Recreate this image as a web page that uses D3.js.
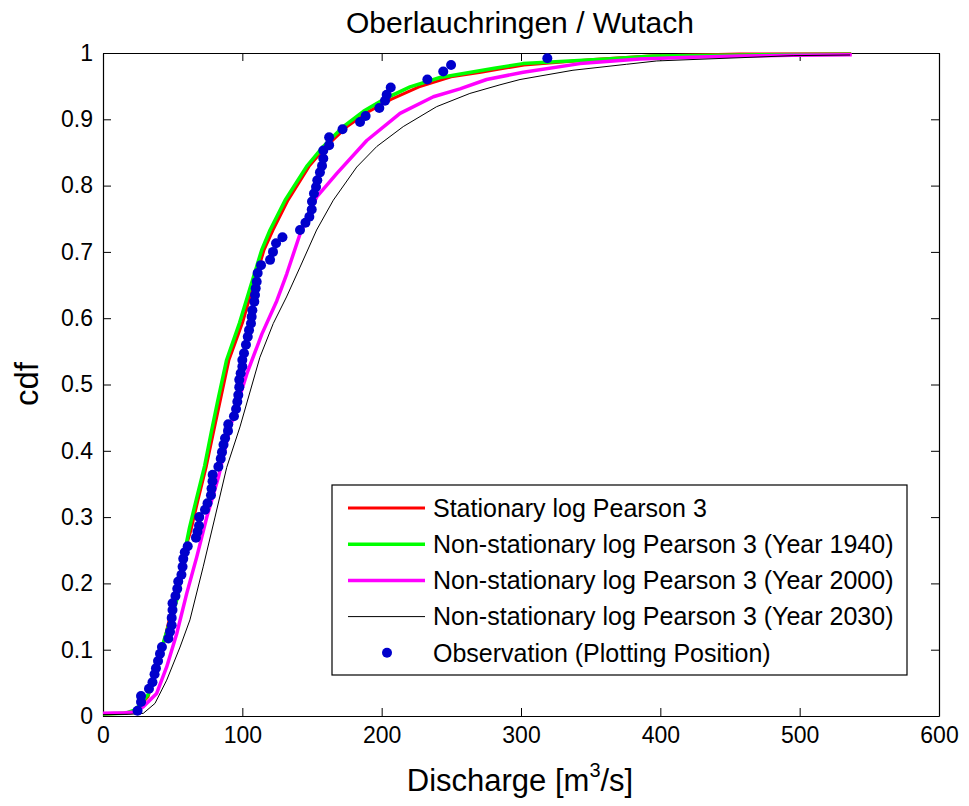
<!DOCTYPE html>
<html>
<head>
<meta charset="utf-8">
<script src="https://cdn.jsdelivr.net/npm/d3@7"></script>
<style>
  body { margin: 0; background: #fff; }
  text { font-family: Arial, "Liberation Sans", sans-serif; }
</style>
</head>
<body>
<div id="root"></div>
<script>
// observations (plotting position)
const obsQ = [24.8, 27.3, 27.3, 33.0, 35.5, 37.0, 38.0, 39.5, 40.9, 42.3,
  46.9, 48.1, 49.3, 49.3, 49.9, 49.9, 52.0, 53.3, 54.0, 56.3,
  57.1, 57.6, 58.7, 60.8, 66.7, 67.8, 68.9, 69.1, 73.2, 75.0,
  77.5, 77.9, 78.6, 78.7, 82.8, 84.5, 85.4, 86.5, 87.6, 89.7,
  89.9, 94.0, 95.5, 96.4, 97.1, 97.8, 97.8, 98.8, 100.0, 100.0,
  101.2, 102.6, 103.9, 104.8, 106.2, 106.7, 107.2, 108.6, 109.1, 109.6,
  110.3, 111.0, 113.4, 119.9, 122.0, 124.2, 128.8, 141.4, 145.3, 148.1,
  149.8, 150.0, 151.4, 152.9, 153.8, 155.7, 157.2, 158.1, 158.1, 162.3,
  162.3, 171.9, 184.5, 188.5, 198.3, 202.4, 203.6, 206.5, 232.8, 244.2,
  249.8, 318.9]
const obsP = [0.008, 0.021, 0.030, 0.041, 0.051, 0.063, 0.072, 0.083, 0.094, 0.104,
  0.117, 0.127, 0.137, 0.148, 0.160, 0.170, 0.181, 0.192, 0.203, 0.213,
  0.225, 0.237, 0.247, 0.256, 0.269, 0.278, 0.287, 0.300, 0.311, 0.321,
  0.333, 0.343, 0.354, 0.364, 0.376, 0.388, 0.398, 0.409, 0.419, 0.430,
  0.440, 0.452, 0.463, 0.474, 0.484, 0.496, 0.507, 0.517, 0.527, 0.537,
  0.547, 0.560, 0.572, 0.582, 0.592, 0.602, 0.612, 0.625, 0.635, 0.645,
  0.655, 0.668, 0.680, 0.688, 0.700, 0.713, 0.722, 0.733, 0.744, 0.753,
  0.764, 0.776, 0.788, 0.798, 0.808, 0.820, 0.830, 0.841, 0.853, 0.861,
  0.873, 0.885, 0.896, 0.905, 0.917, 0.928, 0.937, 0.948, 0.960, 0.972,
  0.982, 0.992]

// stationary log Pearson 3
const statQ = [0, 15.8, 23.0, 32.3, 44.5, 60.3, 63.2, 68.2, 74.2, 79.3, 84.3, 90.4, 100.1, 107.3,
  115.6, 122.0, 132.8, 147.9, 160.1, 175.2, 190.9, 206.7, 226.8, 249.8, 271.3, 302.2, 354.6,
  392.6, 457.2, 537]
const statP = [0.003, 0.004, 0.008, 0.029, 0.118, 0.261, 0.281, 0.326, 0.377, 0.428, 0.477, 0.537,
  0.593, 0.645, 0.703, 0.733, 0.778, 0.829, 0.859, 0.889, 0.912, 0.930, 0.949, 0.964, 0.971,
  0.982, 0.9905, 0.9955, 0.9985, 0.999]

// non-stationary, year 1940
const ns1940Q = [0, 15.8, 23.0, 32.3, 44.5, 53.6, 59.9, 62.1, 66.9, 72.9, 77.7, 82.5, 88.7, 98.0,
  105.5, 113.9, 119.9, 130.7, 146.2, 158.1, 172.5, 186.9, 201.3, 220.4, 241.9, 280.9, 301.4,
  361.5, 395.0, 457.5, 537]
const ns1940P = [0.003, 0.004, 0.009, 0.032, 0.119, 0.179, 0.261, 0.284, 0.326, 0.377, 0.428, 0.477,
  0.537, 0.593, 0.645, 0.703, 0.733, 0.778, 0.829, 0.859, 0.889, 0.912, 0.930, 0.949, 0.963,
  0.977, 0.984, 0.991, 0.9955, 0.997, 0.998]

// non-stationary, year 2000
const ns2000Q = [0, 15.8, 23.0, 28.9, 38.5, 45.7, 52.9, 60.1, 67.3, 74.5, 82.8, 91.2, 103.2, 114.0,
  124.7, 131.9, 141.4, 153.4, 167.7, 189.3, 213.2, 237.1, 256.2, 275.3, 301.6, 342.3, 385.4,
  421.3, 457.2, 495.3, 537.4]
const ns2000P = [0.004, 0.005, 0.006, 0.014, 0.034, 0.074, 0.124, 0.185, 0.240, 0.300, 0.360, 0.435,
  0.516, 0.576, 0.626, 0.667, 0.727, 0.783, 0.818, 0.868, 0.909, 0.934, 0.946, 0.960, 0.971,
  0.984, 0.991, 0.9935, 0.9955, 0.9965, 0.9975]

// non-stationary, year 2030
const ns2030Q = [0, 19.4, 28.9, 37.3, 45.7, 55.3, 62.4, 71.9, 80.4, 88.8, 98.3, 112.6, 122.2, 131.7,
  141.4, 153.3, 165.3, 182.1, 196.5, 215.5, 239.4, 263.3, 284.9, 299.3, 337.3, 375.8, 397.4,
  421.3, 495.3, 536.2]
const ns2030P = [0.002, 0.0026, 0.004, 0.019, 0.054, 0.104, 0.145, 0.225, 0.300, 0.375, 0.436, 0.541,
  0.592, 0.632, 0.677, 0.733, 0.778, 0.828, 0.859, 0.889, 0.919, 0.939, 0.952, 0.960, 0.974,
  0.983, 0.988, 0.990, 0.996, 0.997]

const xTicks = [0, 100, 200, 300, 400, 500, 600]
const yTicks = [0, 0.1, 0.2, 0.3, 0.4, 0.5, 0.6, 0.7, 0.8, 0.9, 1]

const legendLabels = [
  "Stationary log Pearson 3",
  "Non-stationary log Pearson 3 (Year 1940)",
  "Non-stationary log Pearson 3 (Year 2000)",
  "Non-stationary log Pearson 3 (Year 2030)",
  "Observation (Plotting Position)"
]

function drawChart() {
  const ROOT_ELEM = d3.select("#root")
  ROOT_ELEM.selectAll("*").remove()

  const wrapper = { width: 969, height: 806 }
  const margin = { top: 53, left: 103 }
  const bound = {
    width: 939 - margin.left,
    height: 716 - margin.top
  }

  const svg = ROOT_ELEM.append("svg")
    .attr("width", wrapper.width)
    .attr("height", wrapper.height)

  const Bound = svg.append("g")
    .attr("transform", `translate(${margin.left},${margin.top})`)

  const xScale = d3.scaleLinear().domain([0, 600]).range([0, bound.width])
  const yScale = d3.scaleLinear().domain([0, 1]).range([bound.height, 0])

  const tickLen = 8
  const fmtY = d => d === 0 || d === 1 ? String(d) : d3.format(".1f")(d)

  // axes, ticks pointing inwards on all four sides
  const xAxis = Bound.append("g")
    .attr("transform", `translate(0,${bound.height})`)
    .call(d3.axisBottom(xScale).tickValues(xTicks).tickSizeInner(-tickLen).tickSizeOuter(0).tickPadding(11))
  const yAxis = Bound.append("g")
    .call(d3.axisLeft(yScale).tickValues(yTicks).tickFormat(fmtY).tickSizeInner(-tickLen).tickSizeOuter(0).tickPadding(10))
  const xTop = Bound.append("g")
    .call(d3.axisTop(xScale).tickValues(xTicks).tickSizeInner(-tickLen).tickSizeOuter(0).tickFormat(""))
  const yRight = Bound.append("g")
    .attr("transform", `translate(${bound.width},0)`)
    .call(d3.axisRight(yScale).tickValues(yTicks).tickSizeInner(-tickLen).tickSizeOuter(0).tickFormat(""))

  ;[xAxis, yAxis, xTop, yRight].forEach(a => {
    a.select(".domain").attr("stroke", "#000").attr("stroke-width", 1.2)
    a.selectAll(".tick line").attr("stroke", "#000")
    a.selectAll(".tick text")
      .attr("fill", "#000")
      .style("font-size", "23px")
  })

  const line = d3.line()
    .x(d => xScale(d[0]))
    .y(d => yScale(d[1]))

  const series = [
    { q: statQ, p: statP, color: "#ff0000", width: 3 },
    { q: ns1940Q, p: ns1940P, color: "#00ff00", width: 3.5 },
    { q: ns2000Q, p: ns2000P, color: "#ff00ff", width: 3.5 },
    { q: ns2030Q, p: ns2030P, color: "#000000", width: 1 }
  ]

  Bound.selectAll("path.curve")
    .data(series)
    .join("path")
    .attr("class", "curve")
    .attr("fill", "none")
    .attr("stroke", d => d.color)
    .attr("stroke-width", d => d.width)
    .attr("stroke-linejoin", "round")
    .attr("d", d => line(d.q.map((q, i) => [q, d.p[i]])))

  Bound.selectAll("circle.obs")
    .data(obsQ.map((q, i) => [q, obsP[i]]))
    .join("circle")
    .attr("class", "obs")
    .attr("cx", d => xScale(d[0]))
    .attr("cy", d => yScale(d[1]))
    .attr("r", 5)
    .attr("fill", "#0000cc")

  // title and axis labels
  svg.append("text")
    .attr("x", 520)
    .attr("y", 33)
    .attr("text-anchor", "middle")
    .style("font-size", "30px")
    .text("Oberlauchringen / Wutach")

  svg.append("text")
    .attr("transform", `translate(38,384) rotate(-90)`)
    .attr("text-anchor", "middle")
    .style("font-size", "33px")
    .text("cdf")

  const xLabel = svg.append("text")
    .attr("x", 520)
    .attr("y", 791)
    .attr("text-anchor", "middle")
    .style("font-size", "31px")
  xLabel.append("tspan").text("Discharge [m")
  xLabel.append("tspan").attr("dy", -14).style("font-size", "20px").text("3")
  xLabel.append("tspan").attr("dy", 14).text("/s]")

  // legend
  const legend = svg.append("g").attr("transform", "translate(332,485)")
  legend.append("rect")
    .attr("width", 575)
    .attr("height", 190)
    .attr("fill", "#fff")
    .attr("stroke", "#000")
    .attr("stroke-width", 1.2)

  const rowY = i => 23 + i * 36.2
  legendLabels.forEach((label, i) => {
    const g = legend.append("g").attr("transform", `translate(0,${rowY(i)})`)
    if (i < 4) {
      g.append("line")
        .attr("x1", 16).attr("x2", 93)
        .attr("stroke", series[i].color)
        .attr("stroke-width", series[i].width)
    } else {
      g.append("circle").attr("cx", 55).attr("r", 5).attr("fill", "#0000cc")
    }
    g.append("text")
      .attr("x", 101)
      .attr("dy", "0.35em")
      .style("font-size", "25px")
      .text(label)
  })
}

drawChart()
</script>
</body>
</html>
